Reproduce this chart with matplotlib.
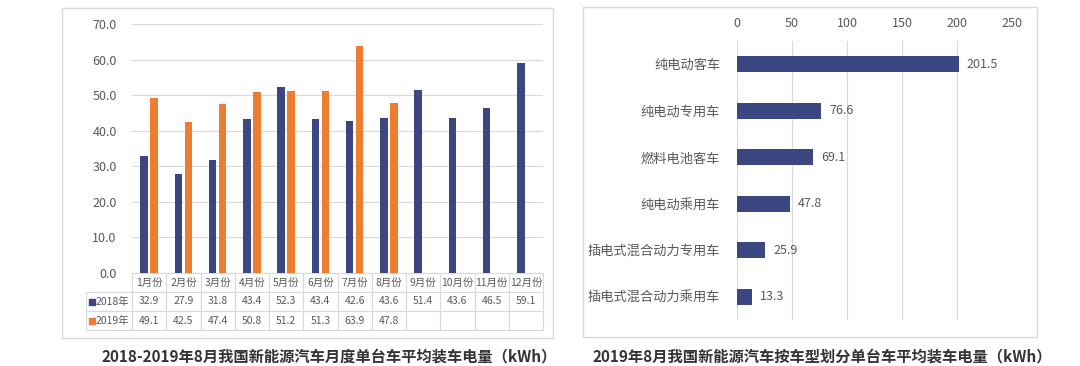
import matplotlib.pyplot as plt
from matplotlib.patches import Rectangle
import numpy as np

plt.rcParams['font.family'] = ['Noto Sans CJK SC', 'DejaVu Sans']

months = ["1月份", "2月份", "3月份", "4月份", "5月份", "6月份",
          "7月份", "8月份", "9月份", "10月份", "11月份", "12月份"]
v2018 = [32.9, 27.9, 31.8, 43.4, 52.3, 43.4, 42.6, 43.6, 51.4, 43.6, 46.5, 59.1]
v2019 = [49.1, 42.5, 47.4, 50.8, 51.2, 51.3, 63.9, 47.8]

types = ["纯电动客车", "纯电动专用车", "燃料电池客车", "纯电动乘用车",
         "插电式混合动力专用车", "插电式混合动力乘用车"]
type_vals = [201.5, 76.6, 69.1, 47.8, 25.9, 13.3]

blue = "#3C4781"
orange = "#ED7D31"
grid_c = "#D9D9D9"
txt_c = "#595959"

W, H = 1080, 366
fig = plt.figure(figsize=(W / 100, H / 100), dpi=100)


def fbox(x0, y0, x1, y1):
    # pixel box (top-left origin) -> figure fraction rect
    return [x0 / W, 1 - y1 / H, (x1 - x0) / W, (y1 - y0) / H]


# panel frames
for x0, y0, x1, y1 in [(62, 8, 553, 338), (583, 7, 1037, 337)]:
    r = fbox(x0, y0, x1, y1)
    fig.patches.append(Rectangle((r[0], r[1]), r[2], r[3], transform=fig.transFigure,
                                 fill=False, edgecolor=grid_c, lw=1))

# ---- left chart ----
ax1 = fig.add_axes(fbox(132, 24, 543, 273))
x = np.arange(len(months))
ax1.bar(x - 0.145, v2018, width=0.22, color=blue, zorder=3)
ax1.bar(x[:len(v2019)] + 0.145, v2019, width=0.22, color=orange, zorder=3)
ax1.set_xlim(-0.5, 11.5)
ax1.set_ylim(0, 70)
ax1.set_yticks(np.arange(0, 71, 10))
ax1.set_yticklabels([f"{v:.1f}" for v in np.arange(0, 71, 10)])
ax1.set_xticks([])
ax1.tick_params(axis='y', length=0, pad=11, labelsize=9, labelcolor=txt_c)
ax1.grid(axis='y', color=grid_c, lw=0.8, zorder=0)
for s in ax1.spines.values():
    s.set_visible(False)

cell_text = [[""] + months,
             [""] + [f"{v:.1f}" for v in v2018],
             [""] + [f"{v:.1f}" for v in v2019] + [""] * (12 - len(v2019))]
col_w = [46] + [411 / 12] * 12
tbl = ax1.table(cellText=cell_text, colWidths=col_w, cellLoc='center',
                bbox=[-46 / 411, -57 / 249, 457 / 411, 57 / 249])
tbl.auto_set_font_size(False)
tbl.set_fontsize(7.5)
for (r, c), cell in tbl.get_celld().items():
    cell.set_edgecolor(grid_c)
    cell.set_linewidth(0.8)
    cell.get_text().set_color(txt_c)
    if r == 0 and c == 0:
        cell.visible_edges = ''

for row_y, lab, col in [(301.5, "2018年", blue), (320.5, "2019年", orange)]:
    yy = (273 - row_y) / 249
    ax1.scatter([-40 / 411], [yy], marker='s', s=14, color=col,
                transform=ax1.transAxes, clip_on=False, zorder=5)
    ax1.text(-36 / 411, yy, lab, transform=ax1.transAxes, fontsize=7.5,
             color=txt_c, va='center', ha='left')

fig.text(329 / W, 1 - 356 / H, "2018-2019年8月我国新能源汽车月度单台车平均装车电量（kWh）",
         ha='center', va='center', fontsize=11, fontweight='bold', color="#333333")

# ---- right chart ----
ax2 = fig.add_axes(fbox(737, 41, 1012, 320))
y = np.arange(len(types))
bars = ax2.barh(y, type_vals, height=0.34, color=blue, zorder=3)
ax2.bar_label(bars, fmt='%.1f', padding=6, fontsize=9, color=txt_c)
ax2.set_xlim(0, 250)
ax2.set_ylim(5.5, -0.5)
ax2.set_xticks(np.arange(0, 251, 50))
ax2.set_yticks(y)
ax2.set_yticklabels(types)
ax2.xaxis.tick_top()
ax2.tick_params(axis='x', length=0, pad=8, labelsize=9, labelcolor=txt_c)
ax2.tick_params(axis='y', length=0, pad=12, labelsize=9.5, labelcolor=txt_c)
ax2.grid(axis='x', color=grid_c, lw=0.8, zorder=0)
for s in ax2.spines.values():
    s.set_visible(False)

fig.text(822 / W, 1 - 356 / H, "2019年8月我国新能源汽车按车型划分单台车平均装车电量（kWh）",
         ha='center', va='center', fontsize=11, fontweight='bold', color="#333333")

fig.savefig("out.png", dpi=100)
